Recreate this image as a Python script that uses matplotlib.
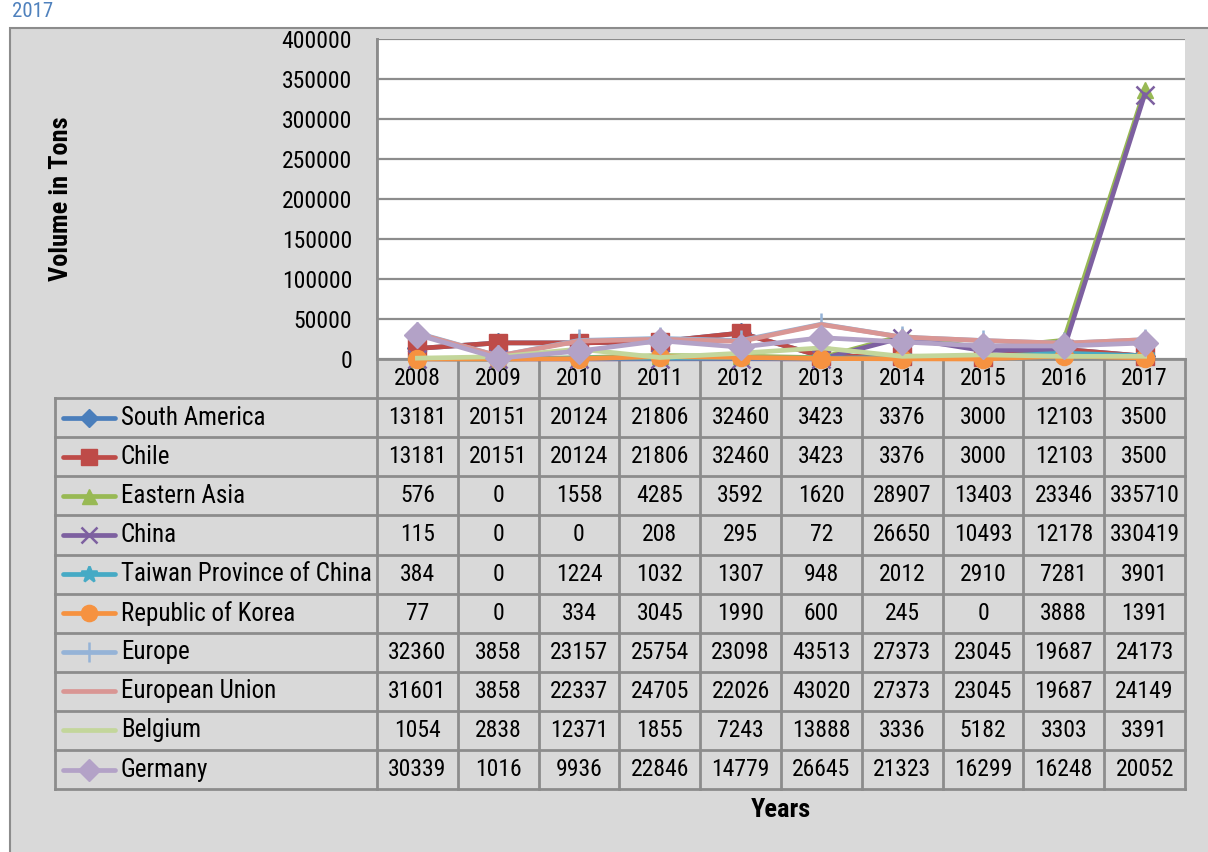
import matplotlib
matplotlib.use("Agg")
import matplotlib.pyplot as plt
from matplotlib import font_manager
from matplotlib.patches import Rectangle
import matplotlib.transforms as mtransforms

years = ["2008", "2009", "2010", "2011", "2012", "2013", "2014", "2015", "2016", "2017"]
series_names = ["South America", "Chile", "Eastern Asia", "China", "Taiwan Province of China",
                "Republic of Korea", "Europe", "European Union", "Belgium", "Germany"]
south_america = [13181, 20151, 20124, 21806, 32460, 3423, 3376, 3000, 12103, 3500]
chile = [13181, 20151, 20124, 21806, 32460, 3423, 3376, 3000, 12103, 3500]
eastern_asia = [576, 0, 1558, 4285, 3592, 1620, 28907, 13403, 23346, 335710]
china = [115, 0, 0, 208, 295, 72, 26650, 10493, 12178, 330419]
taiwan = [384, 0, 1224, 1032, 1307, 948, 2012, 2910, 7281, 3901]
korea = [77, 0, 334, 3045, 1990, 600, 245, 0, 3888, 1391]
europe = [32360, 3858, 23157, 25754, 23098, 43513, 27373, 23045, 19687, 24173]
eu = [31601, 3858, 22337, 24705, 22026, 43020, 27373, 23045, 19687, 24149]
belgium = [1054, 2838, 12371, 1855, 7243, 13888, 3336, 5182, 3303, 3391]
germany = [30339, 1016, 9936, 22846, 14779, 26645, 21323, 16299, 16248, 20052]
yticks = [0, 50000, 100000, 150000, 200000, 250000, 300000, 350000, 400000]

all_values = [south_america, chile, eastern_asia, china, taiwan, korea, europe, eu, belgium, germany]
colors = ["#4a7ebb", "#be4b48", "#98b954", "#7d60a0", "#46aac5", "#f69240",
          "#95b3d7", "#d99694", "#c3d69b", "#b3a2c7"]
markers = ["D", "s", "^", "x", "*", "o", "|", None, None, "D"]
msizes = [10, 13, 12, 13, 13, 13, 16, 0, 0, 13]

names_avail = {f.name for f in font_manager.fontManager.ttflist}
narrow = None
for cand in ["Liberation Sans Narrow", "Roboto Condensed", "Open Sans Condensed", "Noto Sans Condensed"]:
    if cand in names_avail:
        narrow = cand
        break
if narrow:
    FONT, FS, FSN, FSB = narrow, 18, 17, 19
else:
    FONT, FS, FSN, FSB = "Liberation Sans", 16, 15.5, 16
plt.rcParams["font.family"] = [FONT, "DejaVu Sans"]

W, H = 1208, 852
fig = plt.figure(figsize=(W / 100, H / 100), dpi=100)
fig.patch.set_facecolor("white")

bg = fig.add_axes([0, 0, 1, 1], zorder=0)
bg.set_xlim(0, W)
bg.set_ylim(H, 0)
bg.axis("off")
bg.add_patch(Rectangle((10, 28), W + 10, H, facecolor="#d9d9d9", edgecolor="#8c8c8c", lw=1.5))
bg.text(12, 2, "2017", color="#4f81bd", fontsize=FSN - 2, va="top", ha="left")

L, R, T, B = 377, 1185, 39, 359
ax = fig.add_axes([L / W, 1 - B / H, (R - L) / W, (B - T) / H], zorder=1)
ax.set_facecolor("white")
ax.set_xlim(-0.5, len(years) - 0.5)
ax.set_ylim(0, 400000)
ax.set_yticks(yticks)
ax.set_yticklabels([str(v) for v in yticks], fontsize=FSN)
ax.set_xticks([])
ax.tick_params(axis="y", length=0, pad=18)
for s in ["top", "right", "bottom"]:
    ax.spines[s].set_visible(False)
ax.spines["left"].set_color("#8c8c8c")
ax.spines["left"].set_linewidth(2)
ax.grid(axis="y", color="#8c8c8c", lw=1.6)
ax.set_axisbelow(True)

x = list(range(len(years)))
for i, (vals, c, m, ms) in enumerate(zip(all_values, colors, markers, msizes)):
    kw = {}
    if m in ("x", "*", "|"):
        kw = dict(markeredgewidth=1.8, markeredgecolor=c)
    ax.plot(x, vals, color=c, lw=3.4, marker=m, markersize=ms, clip_on=False,
            solid_joinstyle="miter", zorder=3 + i, **kw)

# Data table below
trans = mtransforms.blended_transform_factory(ax.transData, bg.transData)
tab_left = 55
row_h = 39.1
header_top = B
header_bot = B + row_h
n = len(series_names)
table_bottom = header_bot + n * row_h
gc = "#8c8c8c"
bg.plot([L, R], [header_top, header_top], color=gc, lw=2)
for k in range(n + 1):
    yy = header_bot + k * row_h
    bg.plot([tab_left, R], [yy, yy], color=gc, lw=2)
bg.plot([tab_left, tab_left], [header_bot, table_bottom], color=gc, lw=2)
for k in range(len(years) + 1):
    ax_x = k - 0.5
    bg.plot([ax_x, ax_x], [header_top if k > 0 else T, table_bottom], color=gc, lw=2,
            transform=trans, clip_on=False)

for j, yr in enumerate(years):
    bg.text(j, (header_top + header_bot) / 2, yr, transform=trans, ha="center", va="center",
            fontsize=FSN)

for i, (name, vals, c, m, ms) in enumerate(zip(series_names, all_values, colors, markers, msizes)):
    yc = header_bot + (i + 0.5) * row_h
    kw = {}
    if m in ("x", "*", "|"):
        kw = dict(markeredgewidth=1.8, markeredgecolor=c)
    bg.plot([63, 115], [yc, yc], color=c, lw=3.4, solid_capstyle="round")
    if m is not None:
        bg.plot([89], [yc], color=c, marker=m, markersize=ms * 0.9, **kw)
    bg.text(121, yc, name, ha="left", va="center", fontsize=FS)
    for j, v in enumerate(vals):
        bg.text(j, yc, str(v), transform=trans, ha="center", va="center", fontsize=FSN)

bg.text(61, 199, "Volume in Tons", rotation=90, ha="center", va="center",
        fontsize=FSB, fontweight="bold")
bg.text((L + R) / 2, 810, "Years", ha="center", va="center", fontsize=FSB, fontweight="bold")

fig.savefig("out.png", dpi=100)
